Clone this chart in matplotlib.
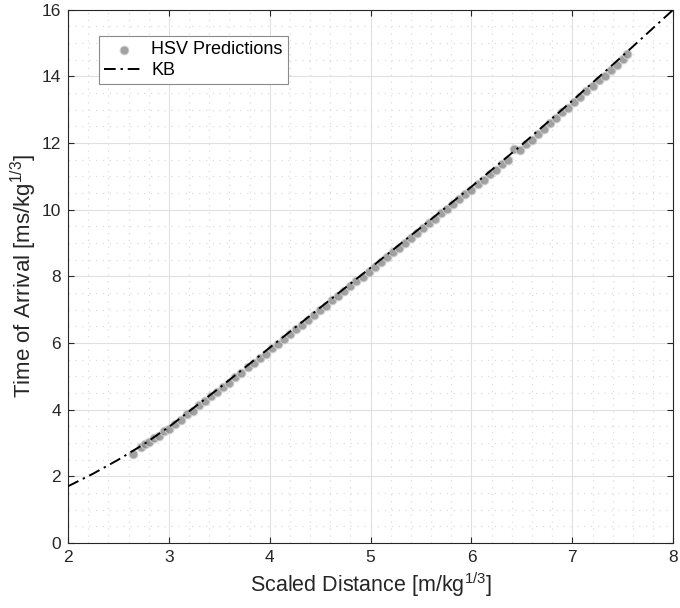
import matplotlib
matplotlib.use("Agg")
import matplotlib.pyplot as plt
from matplotlib.ticker import MultipleLocator

plt.rcParams["font.family"] = ["Liberation Sans", "DejaVu Sans"]
plt.rcParams["mathtext.fontset"] = "custom"
plt.rcParams["mathtext.rm"] = "Liberation Sans"
plt.rcParams["mathtext.default"] = "regular"

# KB curve
kb_x = [2.0, 2.25, 2.5, 2.75, 3.0, 3.5, 4.0, 4.5, 5.0, 5.5, 6.0, 6.5, 7.0, 7.5, 8.0]
kb_y = [1.70, 2.08, 2.50, 2.96, 3.48, 4.65, 5.86, 7.06, 8.26, 9.47, 10.69, 11.95, 13.27, 14.62, 16.00]

# HSV predictions
hsv_x = [2.64, 2.72, 2.76, 2.80, 2.85, 2.90, 2.95, 3.00, 3.06, 3.12, 3.18, 3.24,
         3.30, 3.36, 3.42, 3.48, 3.54, 3.60, 3.66, 3.72, 3.78, 3.84, 3.90, 3.96,
         4.02, 4.08, 4.14, 4.20, 4.26, 4.32, 4.38, 4.44, 4.50, 4.56, 4.62, 4.68,
         4.74, 4.80, 4.86, 4.92, 4.98, 5.04, 5.10, 5.16, 5.22, 5.28, 5.34, 5.40,
         5.46, 5.52, 5.58, 5.64, 5.70, 5.76, 5.82, 5.88, 5.94, 6.00, 6.06, 6.12,
         6.18, 6.24, 6.30, 6.36, 6.42, 6.48, 6.54, 6.60, 6.66, 6.72, 6.78, 6.84,
         6.90, 6.96, 7.02, 7.08, 7.14, 7.20, 7.26, 7.32, 7.38, 7.44, 7.50, 7.54]
hsv_y = [2.68, 2.88, 2.97, 3.02, 3.15, 3.22, 3.35, 3.42, 3.58, 3.70, 3.86, 3.97,
         4.13, 4.25, 4.41, 4.53, 4.69, 4.81, 4.98, 5.10, 5.27, 5.39, 5.55, 5.68,
         5.85, 5.97, 6.13, 6.26, 6.42, 6.55, 6.70, 6.84, 7.00, 7.12, 7.28, 7.41,
         7.57, 7.70, 7.86, 7.99, 8.14, 8.28, 8.44, 8.57, 8.73, 8.86, 9.01, 9.15,
         9.31, 9.44, 9.60, 9.73, 9.89, 10.02, 10.18, 10.31, 10.47, 10.60, 10.77, 10.90,
         11.07, 11.20, 11.37, 11.50, 11.82, 11.80, 11.97, 12.10, 12.28, 12.42, 12.60, 12.74,
         12.92, 13.06, 13.24, 13.38, 13.56, 13.70, 13.88, 14.02, 14.20, 14.35, 14.52, 14.68]

fig = plt.figure(figsize=(6.8, 6.08), dpi=100)
ax = fig.add_axes([0.1, 0.107, 0.89, 0.877])

ax.scatter(hsv_x, hsv_y, s=40, color="#8a8a8a", edgecolors="#d4d4d4",
           linewidths=0.8, alpha=0.8, label="HSV Predictions", zorder=2)
ax.plot(kb_x, kb_y, color="black", linestyle=(0, (6, 2.5, 1.2, 2.5)), linewidth=1.4,
        label="KB", zorder=3)

ax.set_xlim(2, 8)
ax.set_ylim(0, 16)
ax.xaxis.set_major_locator(MultipleLocator(1))
ax.yaxis.set_major_locator(MultipleLocator(2))
ax.xaxis.set_minor_locator(MultipleLocator(0.2))
ax.yaxis.set_minor_locator(MultipleLocator(0.5))

ax.grid(which="major", color="#e0e0e0", linewidth=0.8, linestyle="-", zorder=0)
ax.grid(which="minor", color="#dcdcdc", linewidth=0.9, linestyle=(0, (1, 4.5)), zorder=0)
ax.set_axisbelow(True)

ax.tick_params(which="both", direction="in", top=True, right=True,
               colors="#262626", labelsize=12.5, pad=5)
ax.tick_params(which="major", length=4)
ax.tick_params(which="minor", length=0)
for sp in ax.spines.values():
    sp.set_color("#262626")
    sp.set_linewidth(0.8)

ax.set_xlabel(r"Scaled Distance [m/kg$^{1/3}$]", fontsize=15.5, color="#262626")
ax.set_ylabel(r"Time of Arrival [ms/kg$^{1/3}$]", fontsize=16, color="#262626",
              labelpad=2)

leg = ax.legend(loc="upper left", bbox_to_anchor=(0.051, 0.951), borderaxespad=0,
                fontsize=13, fancybox=False, framealpha=1, edgecolor="#8a8a8a",
                handlelength=2.2, handletextpad=0.4, borderpad=0.3, labelspacing=0.2)
leg.get_frame().set_linewidth(0.8)

fig.savefig("out.png", dpi=100)
